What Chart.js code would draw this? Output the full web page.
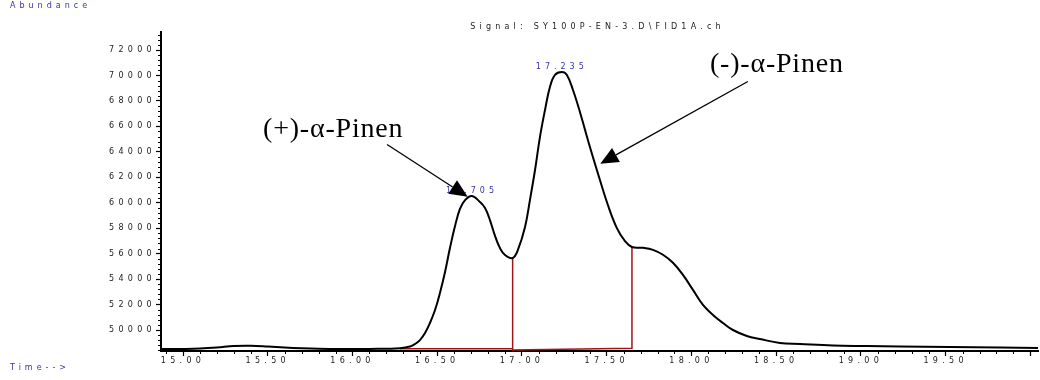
<!DOCTYPE html>
<html>
<head>
<meta charset="utf-8">
<script src="https://cdn.jsdelivr.net/npm/chart.js@4"></script>
<style>
  body { margin: 0; background: #fff; }
  #chart { display: block; }
</style>
</head>
<body>
<canvas id="chart" width="1040" height="380"></canvas>
<script>
// retention time (min) and FID abundance
const times = [14.87, 15.00, 15.10, 15.20, 15.30, 15.40, 15.50, 15.60, 15.70, 15.80, 15.90, 16.00,
  16.10, 16.20, 16.280, 16.339, 16.369, 16.398, 16.428, 16.457, 16.487, 16.516, 16.546, 16.575,
  16.605, 16.634, 16.664, 16.705, 16.752, 16.782, 16.811, 16.841, 16.870, 16.900, 16.945, 16.976,
  17.018, 17.047, 17.077, 17.106, 17.136, 17.165, 17.195, 17.235, 17.265, 17.301, 17.342, 17.401,
  17.460, 17.507, 17.560, 17.608, 17.649, 17.714, 17.773, 17.832, 17.891, 17.950, 18.009, 18.068,
  18.127, 18.186, 18.245, 18.327, 18.404, 18.522, 18.640, 18.835, 19.035, 19.230, 19.525, 19.820,
  20.045];
const abundance = [48500, 48510, 48540, 48620, 48740, 48760, 48700, 48620, 48560, 48520, 48510, 48500,
  48510, 48530, 48560, 48700, 48900, 49210, 49760, 50550, 51570, 52910, 54560, 56440,
  58170, 59510, 60210, 60530, 60060, 59590, 58640, 57390, 56440, 55890, 55660, 56290,
  58090, 60210, 62570, 65160, 67290, 69090, 70040, 70270, 70040, 68860, 67130, 64380,
  61790, 59820, 58010, 56990, 56520, 56460, 56300, 55910, 55280, 54330, 53150, 51970,
  51180, 50550, 50000, 49530, 49290, 48980, 48900, 48780, 48740, 48700, 48660, 48620,
  48590];

// integration baseline drawn in red
const baseTimes = [16.28, 16.945, 16.945, 16.945, 17.649, 17.649];
const baseValues = [48530, 48530, 55660, 48430, 48560, 56520];

const peakTimes = [16.705, 17.235];
const peakLabels = ['16.705', '17.235'];

const xTicks = [15.0, 15.5, 16.0, 16.5, 17.0, 17.5, 18.0, 18.5, 19.0, 19.5, 20.0];
const yTicks = [50000, 52000, 54000, 56000, 58000, 60000, 62000, 64000, 66000, 68000, 70000, 72000];

const compounds = ['(+)-α-Pinen', '(-)-α-Pinen'];

const X_MIN = 14.87, X_MAX = 20.045, Y_MIN = 48350, Y_MAX = 73415;

// where the compound names and their arrows sit, in data units
const notes = [
  { text: compounds[0], at: [15.472, 65160], from: [16.204, 64570], to: [16.680, 60470] },
  { text: compounds[1], at: [18.109, 70310], from: [18.333, 69530], to: [17.462, 63070] }
];

const smallFont = '8px "DejaVu Sans", sans-serif';
const blue = '#3434a8';

function drawArrow(ctx, x1, y1, x2, y2) {
  const ang = Math.atan2(y2 - y1, x2 - x1);
  const len = 18, half = 8;
  const bx = x2 - len * Math.cos(ang), by = y2 - len * Math.sin(ang);
  ctx.beginPath();
  ctx.moveTo(x1, y1);
  ctx.lineTo(bx, by);
  ctx.stroke();
  ctx.beginPath();
  ctx.moveTo(x2, y2);
  ctx.lineTo(bx + half * Math.sin(ang), by - half * Math.cos(ang));
  ctx.lineTo(bx - half * Math.sin(ang), by + half * Math.cos(ang));
  ctx.closePath();
  ctx.fill();
}

const chemPlugin = {
  id: 'chem',
  beforeDraw(chart) {
    chart.ctx.letterSpacing = '4.3px';
  },
  afterDraw(chart) {
    const { ctx, chartArea, scales } = chart;
    const x = scales.x, y = scales.y;
    ctx.save();

    // minor ticks
    ctx.strokeStyle = '#000';
    ctx.lineWidth = 1;
    ctx.beginPath();
    for (let k = 149; k <= 200; k++) {
      if (k % 5 === 0) continue;
      const px = Math.round(x.getPixelForValue(k / 10)) + 0.5;
      ctx.moveTo(px, chartArea.bottom);
      ctx.lineTo(px, chartArea.bottom + 3);
    }
    for (let v = 48400; v <= Y_MAX; v += 400) {
      if (v % 2000 === 0) continue;
      const py = Math.round(y.getPixelForValue(v)) + 0.5;
      ctx.moveTo(chartArea.left - 3, py);
      ctx.lineTo(chartArea.left, py);
    }
    ctx.stroke();

    // peak retention times
    ctx.font = smallFont;
    ctx.letterSpacing = '4px';
    ctx.fillStyle = blue;
    ctx.textAlign = 'center';
    ctx.textBaseline = 'middle';
    peakTimes.forEach((t, i) => {
      const idx = times.indexOf(t);
      ctx.fillText(peakLabels[i], x.getPixelForValue(t), y.getPixelForValue(abundance[idx]) - 5);
    });

    // axis captions and signal name
    ctx.letterSpacing = '4px';
    ctx.textAlign = 'left';
    ctx.fillText('Abundance', 10, 6);
    ctx.fillText('Time-->', 10, 368);
    ctx.fillStyle = '#222';
    ctx.textAlign = 'center';
    ctx.letterSpacing = '4.2px';
    ctx.fillText('Signal: SY100P-EN-3.D\\FID1A.ch', (chartArea.left + chartArea.right) / 2 - 2, 27);

    // compound names with arrows
    ctx.letterSpacing = '0.8px';
    ctx.font = '28px "Liberation Serif", "Times New Roman", serif';
    ctx.fillStyle = '#000';
    ctx.strokeStyle = '#000';
    ctx.lineWidth = 1.3;
    ctx.textAlign = 'left';
    ctx.textBaseline = 'alphabetic';
    notes.forEach(n => {
      ctx.fillText(n.text, x.getPixelForValue(n.at[0]), y.getPixelForValue(n.at[1]));
      drawArrow(ctx,
        x.getPixelForValue(n.from[0]), y.getPixelForValue(n.from[1]),
        x.getPixelForValue(n.to[0]), y.getPixelForValue(n.to[1]));
    });

    ctx.restore();
  }
};

const tickFont = { family: '"DejaVu Sans", sans-serif', size: 8 };

const ctx = document.getElementById('chart').getContext('2d');
new Chart(ctx, {
  type: 'line',
  data: {
    datasets: [
      {
        data: times.map((t, i) => ({ x: t, y: abundance[i] })),
        borderColor: '#000',
        borderWidth: 2,
        pointRadius: 0,
        tension: 0.4,
        order: 1
      },
      {
        data: baseTimes.map((t, i) => ({ x: t, y: baseValues[i] })),
        borderColor: '#a31515',
        borderWidth: 1.5,
        pointRadius: 0,
        tension: 0,
        order: 2
      }
    ]
  },
  options: {
    responsive: false,
    animation: false,
    devicePixelRatio: 1,
    layout: { padding: { left: 0, right: 2, top: 32, bottom: 0 } },
    plugins: { legend: { display: false }, tooltip: { enabled: false } },
    scales: {
      x: {
        type: 'linear',
        min: X_MIN,
        max: X_MAX,
        afterBuildTicks: s => { s.ticks = xTicks.map(v => ({ value: v })); },
        afterFit: s => { s.height = 29; },
        ticks: {
          font: tickFont,
          color: '#1a1a1a',
          padding: 0,
          maxRotation: 0,
          autoSkip: false,
          callback: v => (v >= 20 ? '' : Number(v).toFixed(2))
        },
        grid: { drawOnChartArea: false, tickLength: 5, tickColor: '#000', tickWidth: 1.2 },
        border: { color: '#000', width: 2 }
      },
      y: {
        min: Y_MIN,
        max: Y_MAX,
        afterBuildTicks: s => { s.ticks = yTicks.map(v => ({ value: v })); },
        afterFit: s => { s.width = 161; },
        ticks: {
          font: tickFont,
          color: '#1a1a1a',
          padding: 0,
          autoSkip: false,
          callback: v => String(v)
        },
        grid: { drawOnChartArea: false, tickLength: 5, tickColor: '#000', tickWidth: 1.2 },
        border: { color: '#000', width: 2 }
      }
    }
  },
  plugins: [chemPlugin]
});
</script>
</body>
</html>
